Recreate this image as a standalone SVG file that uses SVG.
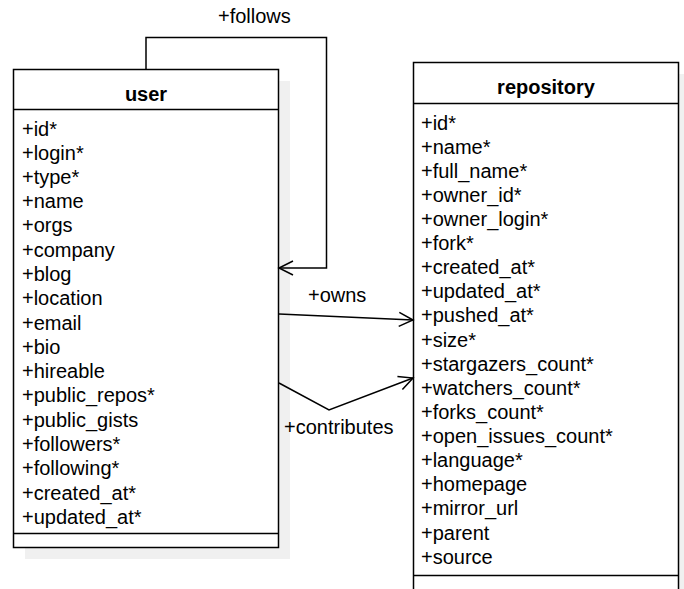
<svg xmlns="http://www.w3.org/2000/svg" width="684" height="589" viewBox="0 0 684 589">
<defs>
<style>
.box{fill:#fff;stroke:#000;stroke-width:1.5}
.sh{fill:#f0f0f0;stroke:none}
.ln{fill:none;stroke:#000;stroke-width:1.5}
text{font-family:"Liberation Sans",Arial,sans-serif;font-size:20px;fill:#000}
.hd{font-weight:bold;text-anchor:middle}
</style>
<marker id="arr" markerWidth="20" markerHeight="20" refX="16" refY="8" orient="auto" markerUnits="userSpaceOnUse">
<path d="M2,1 L16,8 L2,15" fill="none" stroke="#000" stroke-width="1.5"/>
</marker>
</defs>
<g id="user">
<rect class="sh" x="25" y="81" width="265" height="478"/>
<rect class="box" x="13.5" y="69.5" width="265" height="478"/>
<line class="ln" x1="13.5" y1="109.5" x2="278.5" y2="109.5"/>
<line class="ln" x1="13.5" y1="533.5" x2="278.5" y2="533.5"/>
<text class="hd" x="146" y="101">user</text>
<text x="22" y="136">+id*</text>
<text x="22" y="160">+login*</text>
<text x="22" y="184">+type*</text>
<text x="22" y="208">+name</text>
<text x="22" y="232">+orgs</text>
<text x="22" y="257">+company</text>
<text x="22" y="281">+blog</text>
<text x="22" y="305">+location</text>
<text x="22" y="330">+email</text>
<text x="22" y="354">+bio</text>
<text x="22" y="378">+hireable</text>
<text x="22" y="402">+public_repos*</text>
<text x="22" y="427">+public_gists</text>
<text x="22" y="451">+followers*</text>
<text x="22" y="475">+following*</text>
<text x="22" y="500">+created_at*</text>
<text x="22" y="524">+updated_at*</text>
</g>
<g id="repository">
<rect class="sh" x="425" y="74" width="265" height="530"/>
<rect class="box" x="413.5" y="62.5" width="265" height="540"/>
<line class="ln" x1="413.5" y1="103.5" x2="678.5" y2="103.5"/>
<line class="ln" x1="413.5" y1="575.5" x2="678.5" y2="575.5"/>
<text class="hd" x="546" y="94">repository</text>
<text x="421" y="130">+id*</text>
<text x="421" y="154">+name*</text>
<text x="421" y="178">+full_name*</text>
<text x="421" y="202">+owner_id*</text>
<text x="421" y="226">+owner_login*</text>
<text x="421" y="250">+fork*</text>
<text x="421" y="274">+created_at*</text>
<text x="421" y="298">+updated_at*</text>
<text x="421" y="322">+pushed_at*</text>
<text x="421" y="347">+size*</text>
<text x="421" y="371">+stargazers_count*</text>
<text x="421" y="395">+watchers_count*</text>
<text x="421" y="419">+forks_count*</text>
<text x="421" y="443">+open_issues_count*</text>
<text x="421" y="467">+language*</text>
<text x="421" y="491">+homepage</text>
<text x="421" y="515">+mirror_url</text>
<text x="421" y="540">+parent</text>
<text x="421" y="564">+source</text>
</g>
<g id="connectors">
<path class="ln" d="M146,69 V37.5 H326.5 V268 H279" marker-end="url(#arr)"/>
<text x="218" y="23">+follows</text>
<path class="ln" d="M279,314 L413,320" marker-end="url(#arr)"/>
<text x="308" y="302">+owns</text>
<path class="ln" d="M279,383 L329,410 L413,378" marker-end="url(#arr)"/>
<text x="284" y="434">+contributes</text>
</g>
</svg>
